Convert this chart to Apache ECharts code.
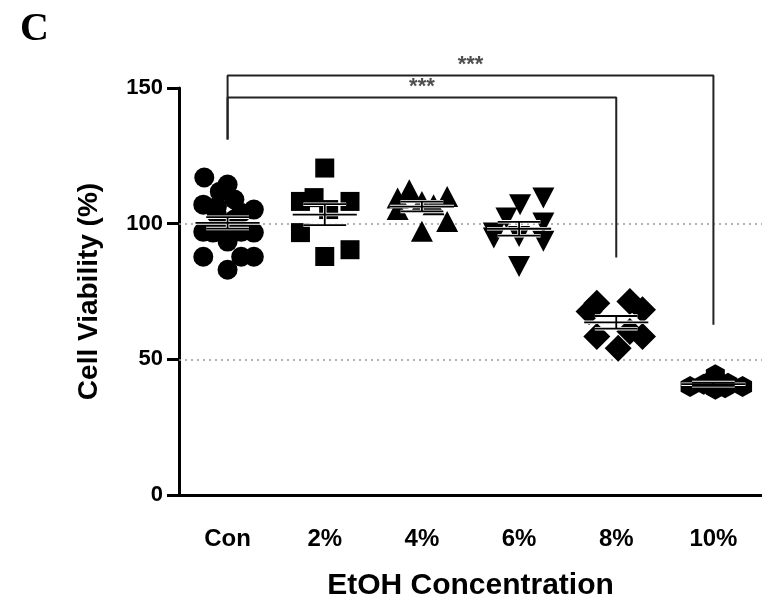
<!DOCTYPE html>
<html>
<head>
<meta charset="utf-8">
<script src="https://cdn.jsdelivr.net/npm/echarts@6/dist/echarts.min.js"></script>
<style>
  html, body { margin: 0; padding: 0; background: #fff; }
  #chart { width: 762px; height: 606px; }
</style>
</head>
<body>
<div id="chart"></div>
<script>
  // groups on the x axis
  var categories = ['Con', '2%', '4%', '6%', '8%', '10%'];
  var yTicks = [0, 50, 100, 150];

  // points of each group: [horizontal offset from group centre, cell viability %]
  var conPoints = [[-0.24, 117], [0, 114.4], [-0.08, 111.8], [0.07, 108.9], [-0.25, 107], [-0.11, 106.3],
    [0.27, 105.2], [0.14, 104], [-0.11, 103.3], [0.07, 101.5], [-0.25, 97], [0, 98.9], [0.27, 96.7],
    [-0.15, 96.7], [0.14, 97], [0, 93.4], [-0.25, 87.8], [0.14, 87.8], [0.27, 87.8], [0, 83]];
  var p2Points = [[0, 120.5], [-0.25, 108.2], [-0.11, 109.6], [0.26, 108.2], [0.04, 105.2],
    [-0.25, 96.7], [0.26, 90.4], [0, 87.9]];
  var p4Points = [[-0.25, 109.5], [-0.13, 112.5], [0, 108.2], [0.12, 107], [0.26, 110],
    [-0.25, 105.2], [0.26, 100.8], [0, 97.2]];
  var p6Points = [[0.25, 109.5], [0.01, 107], [-0.13, 102.1], [0.25, 100.2], [-0.26, 96.6],
    [0, 95.3], [0.25, 93.5], [-0.26, 94.7], [0, 84.2]];
  var p8Points = [[-0.2, 70.7], [0.14, 71.3], [0.27, 68.3], [-0.28, 67.6], [-0.2, 58.4],
    [0.02, 54.1], [0.27, 58.4], [0.14, 60.3]];
  var p10Points = [[-0.24, 40], [-0.1, 40.8], [0.02, 44.3], [0.15, 41.2], [0.3, 40],
    [0.02, 39], [-0.03, 42], [0.12, 39.5]];

  var groups = [conPoints, p2Points, p4Points, p6Points, p8Points, p10Points];
  var symbols = ['circle', 'rect', 'triangle', 'triangle', 'diamond',
    'path://M0,-1L0.87,-0.5L0.87,0.5L0,1L-0.87,0.5L-0.87,-0.5Z'];
  var symbolSizes = [20, 19, [22, 21], [22, 21], [27, 27], [19, 21]];
  var symbolRotates = [0, 0, 0, 180, 0, 0];

  // significance brackets: [group index, y] corner points
  var bracketConTo10 = [[0, 131], [0, 154.6], [5, 154.6], [5, 62.7]];
  var bracketConTo8 = [[0, 131], [0, 146.5], [4, 146.5], [4, 87.5]];
  var sigLabels = [[2.5, 154.6, '***'], [2, 146.5, '***']];

  // mean and SEM of every group
  var stats = groups.map(function (pts, i) {
    var n = pts.length;
    var mean = pts.reduce(function (s, p) { return s + p[1]; }, 0) / n;
    var sd = Math.sqrt(pts.reduce(function (s, p) { return s + Math.pow(p[1] - mean, 2); }, 0) / (n - 1));
    return [i, mean, sd / Math.sqrt(n)];
  });

  var chart = echarts.init(document.getElementById('chart'));

  var series = groups.map(function (pts, i) {
    return {
      type: 'scatter',
      xAxisIndex: 1,
      symbol: symbols[i],
      symbolSize: symbolSizes[i],
      symbolRotate: symbolRotates[i],
      itemStyle: { color: '#000', opacity: 1 },
      z: 3,
      data: pts.map(function (p) { return [i + p[0], p[1]]; })
    };
  });

  // dotted reference lines at 50 and 100
  series[0].markLine = {
    silent: true,
    symbol: 'none',
    label: { show: false },
    lineStyle: { color: '#999', type: [2, 4], width: 1.5 },
    z: 1,
    data: [{ yAxis: 50 }, { yAxis: 100 }]
  };

  // mean +/- SEM
  series.push({
    type: 'custom',
    xAxisIndex: 1,
    z: 5,
    data: stats,
    renderItem: function (params, api) {
      var x = api.value(0), m = api.value(1), e = api.value(2);
      var c = api.coord([x, m]);
      var up = api.coord([x, m + e])[1];
      var lo = api.coord([x, m - e])[1];
      var unit = api.size([1, 0])[0];
      var wMean = unit * 0.33, wSem = unit * 0.22;
      var segs = [
        [c[0] - wMean, c[1], c[0] + wMean, c[1]],
        [c[0] - wSem, up, c[0] + wSem, up],
        [c[0] - wSem, lo, c[0] + wSem, lo],
        [c[0], up, c[0], lo]
      ];
      var children = [];
      segs.forEach(function (s) {
        children.push({ type: 'line', shape: { x1: s[0], y1: s[1], x2: s[2], y2: s[3] },
          style: { stroke: '#fff', lineWidth: 3.5 } });
      });
      segs.forEach(function (s) {
        children.push({ type: 'line', shape: { x1: s[0], y1: s[1], x2: s[2], y2: s[3] },
          style: { stroke: '#000', lineWidth: 1.8 } });
      });
      return { type: 'group', children: children };
    }
  });

  [bracketConTo10, bracketConTo8].forEach(function (b) {
    series.push({
      type: 'line',
      xAxisIndex: 1,
      clip: false,
      symbol: 'none',
      silent: true,
      lineStyle: { color: '#222', width: 2 },
      data: b
    });
  });

  series.push({
    type: 'scatter',
    xAxisIndex: 1,
    clip: false,
    symbolSize: 0,
    silent: true,
    label: {
      show: true,
      position: 'top',
      distance: 0,
      formatter: function (p) { return p.data[2]; },
      color: '#222',
      fontSize: 22,
      fontWeight: 'bold',
      fontFamily: 'Liberation Sans'
    },
    data: sigLabels
  });

  var option = {
    backgroundColor: '#fff',
    animation: false,
    grid: { left: 179, right: -10.5, top: 88, bottom: 111 },
    xAxis: [{
      type: 'category',
      data: categories,
      boundaryGap: true,
      name: 'EtOH Concentration',
      nameLocation: 'middle',
      nameGap: 76,
      nameTextStyle: { fontSize: 30, fontWeight: 'bold', color: '#000', fontFamily: 'Liberation Sans' },
      axisLine: { lineStyle: { color: '#000', width: 3 } },
      axisTick: { alignWithLabel: true, length: 12, lineStyle: { color: '#000', width: 3 } },
      axisLabel: { margin: 32, fontSize: 24, fontWeight: 'bold', color: '#000', fontFamily: 'Liberation Sans' },
      splitLine: { show: false }
    }, {
      type: 'value',
      min: -0.5,
      max: 5.5,
      show: false
    }],
    yAxis: {
      type: 'value',
      min: yTicks[0],
      max: yTicks[yTicks.length - 1],
      interval: 50,
      name: 'Cell Viability (%)',
      nameLocation: 'middle',
      nameGap: 76,
      nameTextStyle: { fontSize: 28, fontWeight: 'bold', color: '#000', fontFamily: 'Liberation Sans' },
      axisLine: { show: true, onZero: false, lineStyle: { color: '#000', width: 3 } },
      axisTick: { show: true, length: 12, lineStyle: { color: '#000', width: 3 } },
      axisLabel: { margin: 16, fontSize: 22, fontWeight: 'bold', color: '#000', fontFamily: 'Liberation Sans' },
      splitLine: { show: false }
    },
    graphic: [{
      type: 'text',
      left: 20,
      top: 10,
      style: { text: 'C', font: 'bold 40px "Liberation Serif"', fill: '#000' }
    }],
    series: series
  };

  chart.setOption(option);
</script>
</body>
</html>
